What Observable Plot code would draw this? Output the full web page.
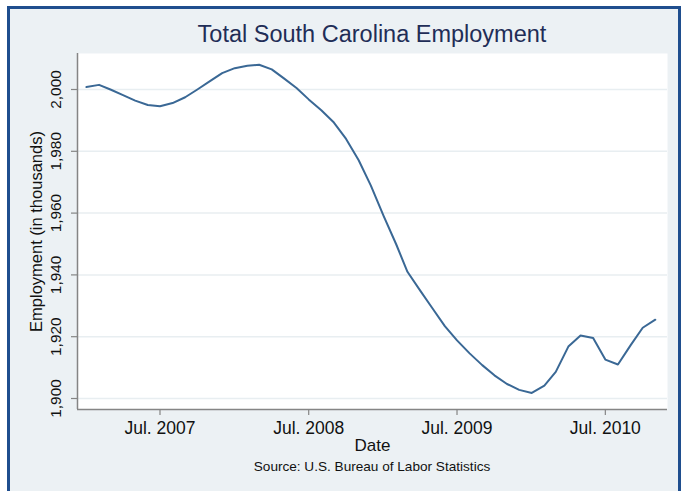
<!DOCTYPE html>
<html><head><meta charset="utf-8">
<script src="https://cdn.jsdelivr.net/npm/d3@7"></script>
<script src="https://cdn.jsdelivr.net/npm/@observablehq/plot@0.6"></script>
<style>
html,body{margin:0;padding:0;background:#fff;width:688px;height:491px;overflow:hidden;font-family:"Liberation Sans",Arial,sans-serif;}
#frame{position:absolute;left:7px;top:6px;width:674px;height:500px;box-sizing:border-box;border:3px solid #1f4e8e;background:#ecf1f4;}
#title{position:absolute;left:77px;width:590px;top:23px;text-align:center;font-size:23.5px;color:#1f2d57;line-height:1;white-space:nowrap;}
#chart{position:absolute;left:0;top:50px;}
#caption{position:absolute;left:77px;width:590px;top:459.5px;text-align:center;font-size:13.6px;color:#111;line-height:1;white-space:nowrap;}
</style></head>
<body>
<div id="frame"></div>
<div id="title">Total South Carolina Employment</div>
<div id="chart"></div>
<div id="caption">Source: U.S. Bureau of Labor Statistics</div>
<script>
const months = ["2007-01","2007-02","2007-03","2007-04","2007-05","2007-06","2007-07","2007-08","2007-09","2007-10","2007-11","2007-12",
"2008-01","2008-02","2008-03","2008-04","2008-05","2008-06","2008-07","2008-08","2008-09","2008-10","2008-11","2008-12",
"2009-01","2009-02","2009-03","2009-04","2009-05","2009-06","2009-07","2009-08","2009-09","2009-10","2009-11","2009-12",
"2010-01","2010-02","2010-03","2010-04","2010-05","2010-06","2010-07","2010-08","2010-09","2010-10","2010-11"];
const employment = [2000.8,2001.5,2000.0,1998.2,1996.4,1995.0,1994.6,1995.6,1997.5,2000.0,
2002.7,2005.3,2006.9,2007.7,2008.0,2006.5,2003.6,2000.5,1996.8,1993.3,
1989.3,1984.0,1977.1,1968.9,1959.2,1950.0,1941.0,1935.0,1929.3,1923.4,
1918.8,1914.6,1910.8,1907.5,1904.7,1902.8,1901.8,1904.2,1908.6,1916.8,
1920.4,1919.6,1912.6,1911.0,1917.2,1922.9,1925.5];
const xTicks = ["2007-07-01","2008-07-01","2009-07-01","2010-07-01"];
const xTickLabels = ["Jul. 2007","Jul. 2008","Jul. 2009","Jul. 2010"];
const yTicks = [1900,1920,1940,1960,1980,2000];
const xDomain = ["2006-12-10","2010-12-01"];
const yDomain = [1896.44,2011.65];
const xLabel = "Date";
const yLabel = "Employment (in thousands)";

const data = months.map((m,i)=>({date:new Date(m+"-01"), value:employment[i]}));
const xTickDates = xTicks.map(d=>new Date(d));
const xd = xDomain.map(d=>new Date(d));
const fmt = d3.format(",");
const axisColor = "#858585";

const chart = Plot.plot({
  width:688, height:405,
  marginLeft:77, marginRight:21, marginTop:3, marginBottom:46,
  style:{background:"transparent", fontFamily:"'Liberation Sans', Arial, sans-serif", color:"#111"},
  x:{type:"utc", domain:xd},
  y:{domain:yDomain},
  marks:[
    Plot.frame({fill:"white", stroke:"none"}),
    Plot.gridY(yTicks, {stroke:"#e8eef1", strokeOpacity:1, strokeWidth:1.5}),
    Plot.ruleX([xd[0]], {stroke:axisColor, strokeWidth:1.5}),
    Plot.ruleY([yDomain[0]], {stroke:axisColor, strokeWidth:1.5}),
    Plot.axisY(yTicks, {tickSize:6, tickFormat:()=>"", label:null, stroke:axisColor, strokeWidth:1.2}),
    Plot.text(yTicks, {y:d=>d, text:d=>fmt(d), frameAnchor:"left", dx:-16.5, rotate:-90, lineAnchor:"bottom", textAnchor:"middle", fontSize:15.4, fill:"#111"}),
    Plot.axisX(xTickDates, {tickSize:6, tickPadding:6.5, tickFormat:d=>xTickLabels[xTickDates.findIndex(t=>+t===+d)], label:null, stroke:axisColor, strokeWidth:1.2, fontSize:17.5, fill:"#111"}),
    Plot.text([xLabel], {frameAnchor:"bottom", dy:41, lineAnchor:"bottom", textAnchor:"middle", fontSize:17, fill:"#111"}),
    Plot.text([yLabel], {frameAnchor:"left", dx:-36, rotate:-90, lineAnchor:"bottom", textAnchor:"middle", fontSize:16.5, fill:"#111"}),
    Plot.lineY(data, {x:"date", y:"value", stroke:"#3a6895", strokeWidth:2})
  ]
});
document.getElementById("chart").appendChild(chart);
</script>
</body></html>
